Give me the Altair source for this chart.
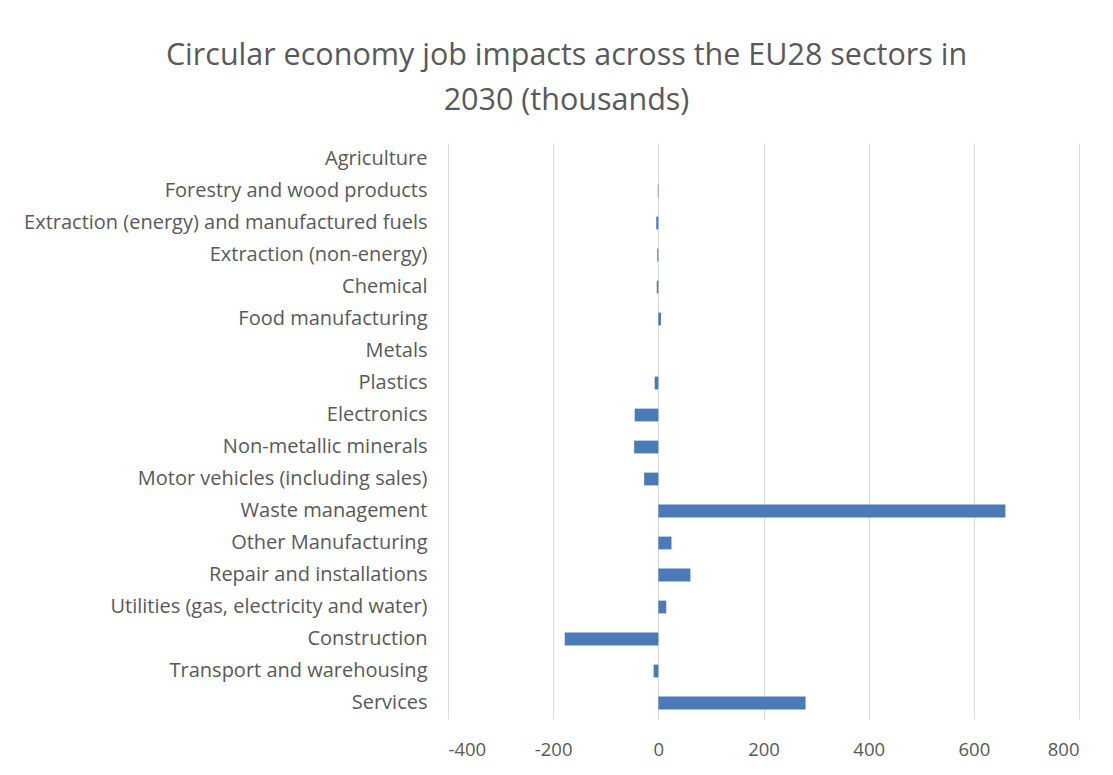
import altair as alt
import pandas as pd

sectors = [
    "Agriculture",
    "Forestry and wood products",
    "Extraction (energy) and manufactured fuels",
    "Extraction (non-energy)",
    "Chemical",
    "Food manufacturing",
    "Metals",
    "Plastics",
    "Electronics",
    "Non-metallic minerals",
    "Motor vehicles (including sales)",
    "Waste management",
    "Other Manufacturing",
    "Repair and installations",
    "Utilities (gas, electricity and water)",
    "Construction",
    "Transport and warehousing",
    "Services",
]
jobs = [0, -1, -4, -2, -3, 5, 0, -7, -45, -46, -27, 660, 25, 61, 15, -178, -9, 280]
x_ticks = [-400, -200, 0, 200, 400, 600, 800]

df = pd.DataFrame({"sector": sectors, "jobs": jobs})

FONT = "Open Sans"
GREY = "#595959"

chart = (
    alt.Chart(df)
    .mark_bar(color="#4a7bb7")
    .encode(
        x=alt.X(
            "jobs:Q",
            scale=alt.Scale(domain=[-400, 800], nice=False),
            axis=alt.Axis(
                values=x_ticks,
                labelExpr="datum.value + ''",
                title=None,
                domain=False,
                ticks=False,
                grid=True,
                gridColor="#d9d9d9",
                gridWidth=1,
                labelColor=GREY,
                labelFont=FONT,
                labelFontSize=18.5,
                labelPadding=21,
            ),
        ),
        y=alt.Y(
            "sector:N",
            sort=None,
            scale=alt.Scale(paddingInner=0.6, paddingOuter=0.3),
            axis=alt.Axis(
                title=None,
                domain=False,
                ticks=False,
                labelColor=GREY,
                labelFont=FONT,
                labelFontSize=20,
                labelPadding=21,
                labelLimit=700,
            ),
        ),
        tooltip=["sector", "jobs"],
    )
    .properties(
        width=631,
        height=576,
        autosize=alt.AutoSizeParams(type="none"),
        padding={"left": 440, "top": 135, "right": 26, "bottom": 48},
        title=alt.TitleParams(
            text=["Circular economy job impacts across the EU28 sectors in", "2030 (thousands)"],
            font=FONT,
            fontSize=30.5,
            fontWeight="normal",
            color=GREY,
            anchor="middle",
            dx=-197,
            offset=27,
            lineHeight=45,
        ),
    )
    .configure(background="white")
    .configure_view(strokeWidth=0, stroke="transparent")
)

chart.save("out.html", embed_options={"renderer": "svg", "actions": False})
